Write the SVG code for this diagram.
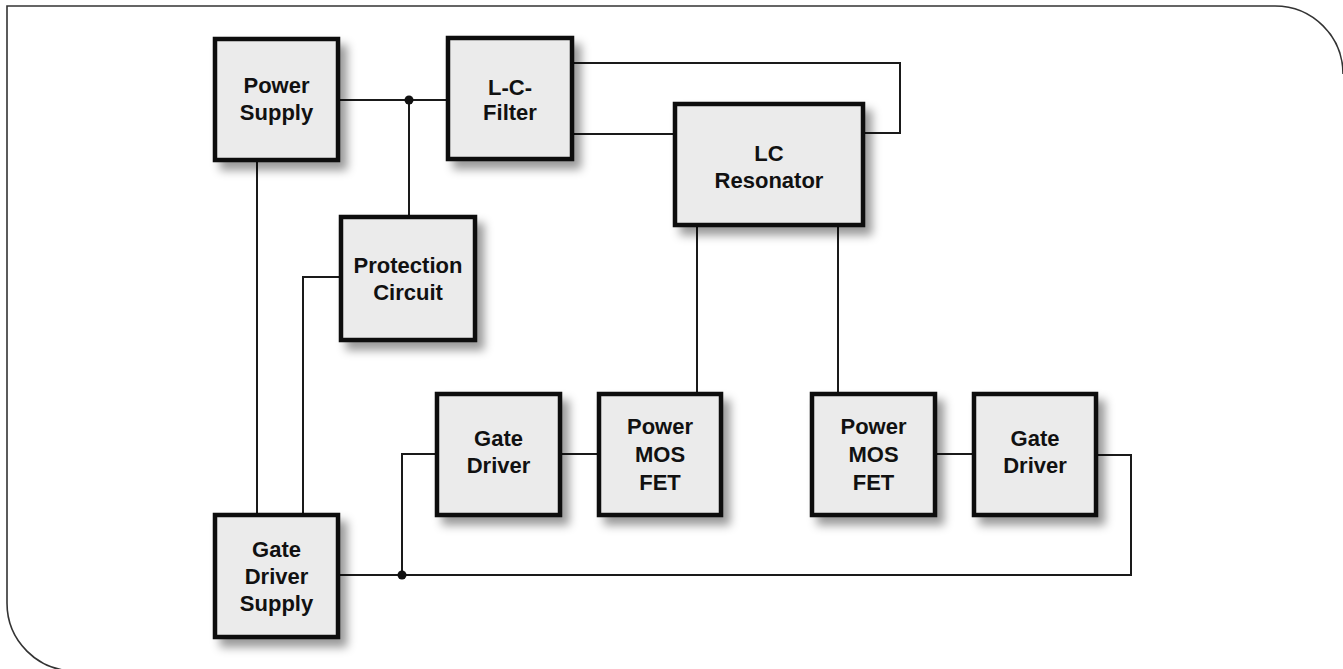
<svg xmlns="http://www.w3.org/2000/svg" width="1343" height="669" viewBox="0 0 1343 669">
<style>
.box{fill:#ebebeb;stroke:#111;stroke-width:4.5;filter:url(#sh)}
.lbl{font-family:"Liberation Sans",Arial,sans-serif;font-weight:bold;font-size:22px;fill:#111;text-anchor:middle}
.wire{fill:none;stroke:#1a1a1a;stroke-width:2}
.dot{fill:#111}
.frame{fill:none;stroke:#333;stroke-width:1.6}
</style>
<defs>
<filter id="sh" x="-20%" y="-20%" width="150%" height="150%">
<feDropShadow dx="7" dy="8" stdDeviation="5" flood-color="#000" flood-opacity="0.4"/>
</filter>
</defs>
<rect width="1343" height="669" fill="#fff"/>
<path class="frame" d="M75,671 A68,68 0 0 1 7,603 V6 H1275 A68,68 0 0 1 1343,74"/>
<g id="connectors">
<path class="wire" d="M340,100 H446"/>
<path class="wire" d="M409,100 V215"/>
<path class="wire" d="M574,63 H900 V133 H865"/>
<path class="wire" d="M574,134 H673"/>
<path class="wire" d="M257,162 V513"/>
<path class="wire" d="M339,277 H303 V513"/>
<path class="wire" d="M340,575 H1131 V455 H1098"/>
<path class="wire" d="M402,575 V454 H435"/>
<path class="wire" d="M562,454 H597"/>
<path class="wire" d="M697,227 V392"/>
<path class="wire" d="M838,227 V392"/>
<path class="wire" d="M937,454 H972"/>
<circle class="dot" cx="409" cy="100" r="4.5"/>
<circle class="dot" cx="402" cy="575" r="4.5"/>
</g>
<g id="power-supply">
<rect class="box" x="215" y="39" width="123" height="121"/>
<text class="lbl" x="276.5" y="93">Power</text>
<text class="lbl" x="276.5" y="120">Supply</text>
</g>
<g id="lc-filter">
<rect class="box" x="448" y="38" width="124" height="121"/>
<text class="lbl" x="510" y="95">L-C-</text>
<text class="lbl" x="510" y="120">Filter</text>
</g>
<g id="lc-resonator">
<rect class="box" x="675" y="104" width="188" height="121"/>
<text class="lbl" x="769" y="161">LC</text>
<text class="lbl" x="769" y="188">Resonator</text>
</g>
<g id="protection-circuit">
<rect class="box" x="341" y="217" width="134" height="123"/>
<text class="lbl" x="408" y="273">Protection</text>
<text class="lbl" x="408" y="300">Circuit</text>
</g>
<g id="gate-driver-supply">
<rect class="box" x="215" y="515" width="123" height="122"/>
<text class="lbl" x="276.5" y="557">Gate</text>
<text class="lbl" x="276.5" y="584">Driver</text>
<text class="lbl" x="276.5" y="611">Supply</text>
</g>
<g id="gate-driver-1">
<rect class="box" x="437" y="394" width="123" height="121"/>
<text class="lbl" x="498.5" y="446">Gate</text>
<text class="lbl" x="498.5" y="473">Driver</text>
</g>
<g id="power-mosfet-1">
<rect class="box" x="599" y="394" width="122" height="121"/>
<text class="lbl" x="660" y="434">Power</text>
<text class="lbl" x="660" y="462">MOS</text>
<text class="lbl" x="660" y="490">FET</text>
</g>
<g id="power-mosfet-2">
<rect class="box" x="812" y="394" width="123" height="121"/>
<text class="lbl" x="873.5" y="434">Power</text>
<text class="lbl" x="873.5" y="462">MOS</text>
<text class="lbl" x="873.5" y="490">FET</text>
</g>
<g id="gate-driver-2">
<rect class="box" x="974" y="394" width="122" height="121"/>
<text class="lbl" x="1035" y="446">Gate</text>
<text class="lbl" x="1035" y="473">Driver</text>
</g>
</svg>
